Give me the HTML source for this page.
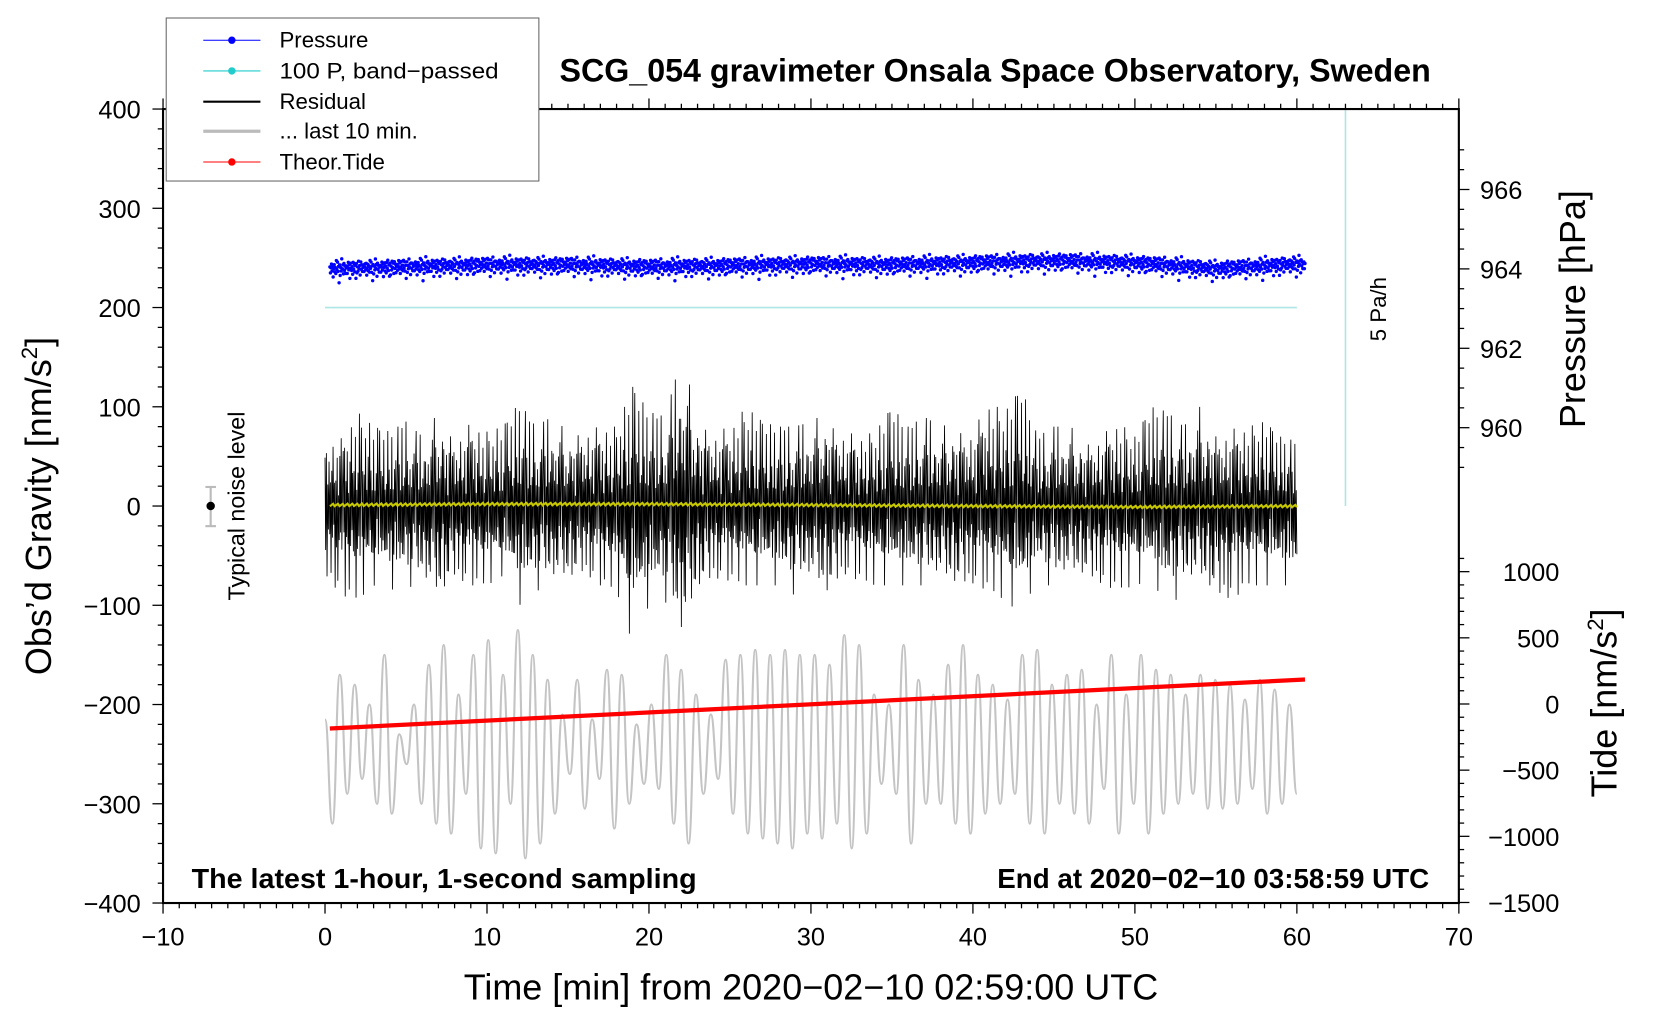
<!DOCTYPE html>
<html><head><meta charset="utf-8"><style>
html,body{margin:0;padding:0;background:#fff;}
svg{display:block;font-family:"Liberation Sans",sans-serif;}
</style></head><body>
<svg id="chart" width="1660" height="1020" viewBox="0 0 1568 963.5" preserveAspectRatio="none" xmlns="http://www.w3.org/2000/svg">
<rect width="1568" height="963.5" fill="#fff"/>
<g id="marks"></g>
<g id="axes"></g>
<text x="940" y="77" font-size="30.5" font-weight="bold" text-anchor="middle" textLength="823" lengthAdjust="spacingAndGlyphs">SCG_054 gravimeter Onsala Space Observatory, Sweden</text>
<text x="766" y="944" font-size="34" text-anchor="middle" textLength="656" lengthAdjust="spacingAndGlyphs">Time [min] from 2020−02−10 02:59:00 UTC</text>
<text transform="translate(48,478) rotate(-90)" font-size="34" text-anchor="middle">Obs’d Gravity [nm/s<tspan font-size="21" dy="-13">2</tspan><tspan dy="13">]</tspan></text>
<text transform="translate(1497,292) rotate(-90)" font-size="34" text-anchor="middle">Pressure [hPa]</text>
<text transform="translate(1527,664) rotate(-90)" font-size="34" text-anchor="middle">Tide [nm/s<tspan font-size="21" dy="-13">2</tspan><tspan dy="13">]</tspan></text>
<text x="181" y="839" font-size="26.5" font-weight="bold" textLength="477" lengthAdjust="spacingAndGlyphs">The latest 1-hour, 1-second sampling</text>
<text x="1350" y="839" font-size="26.5" font-weight="bold" text-anchor="end" textLength="408" lengthAdjust="spacingAndGlyphs">End at 2020−02−10 03:58:59 UTC</text>
<text transform="translate(231,478) rotate(-90)" font-size="22" text-anchor="middle">Typical noise level</text>
<line x1="199" y1="460" x2="199" y2="497" stroke="#bbb" stroke-width="2"/>
<line x1="194" y1="460" x2="204" y2="460" stroke="#bbb" stroke-width="2"/>
<line x1="194" y1="497" x2="204" y2="497" stroke="#bbb" stroke-width="2"/>
<circle cx="199" cy="478" r="4" fill="#000"/>
<text transform="translate(1309,292) rotate(-90)" font-size="21" text-anchor="middle">5 Pa/h</text>
<g>
<rect x="157" y="17" width="352" height="154" fill="#fff" stroke="#666" stroke-width="1"/>
<g><line x1="192" y1="38" x2="246" y2="38" stroke="#00f" stroke-width="1"/><circle cx="219" cy="38" r="3.5" fill="#00f"/><text x="264" y="45" font-size="21">Pressure</text></g>
<g><line x1="192" y1="67" x2="246" y2="67" stroke="#2cc" stroke-width="1"/><circle cx="219" cy="67" r="3.5" fill="#2cc"/><text x="264" y="74" font-size="21" textLength="207" lengthAdjust="spacingAndGlyphs">100 P, band−passed</text></g>
<g><line x1="192" y1="96" x2="246" y2="96" stroke="#000" stroke-width="2"/><text x="264" y="103" font-size="21">Residual</text></g>
<g><line x1="192" y1="124" x2="246" y2="124" stroke="#bbb" stroke-width="3"/><text x="264" y="131" font-size="21">... last 10 min.</text></g>
<g><line x1="192" y1="153" x2="246" y2="153" stroke="#f00" stroke-width="1"/><circle cx="219" cy="153" r="3.5" fill="#f00"/><text x="264" y="160" font-size="21">Theor.Tide</text></g>
</g>
</svg>
<script>
// ---- data ----
const resMinutes = [0,1,2,3,4,5,6,7,8,9,10,11,12,13,14,15,16,17,18,19,20,21,22,23,24,25,26,27,28,29,30,31,32,33,34,35,36,37,38,39,40,41,42,43,44,45,46,47,48,49,50,51,52,53,54,55,56,57,58,59,60];
const resUpper = [75,70,95,80,75,85,70,95,75,85,75,80,105,80,90,75,85,80,80,120,95,90,150,95,80,80,100,85,80,80,85,95,80,70,75,100,80,90,80,85,80,105,95,120,70,80,80,70,75,85,70,100,95,80,100,80,80,80,85,70,65];
const resLower = [-75,-90,-95,-80,-85,-80,-85,-100,-75,-80,-80,-70,-100,-85,-85,-80,-70,-80,-85,-140,-100,-95,-150,-90,-75,-75,-80,-80,-80,-90,-80,-95,-70,-75,-80,-80,-80,-80,-80,-85,-80,-85,-95,-110,-70,-85,-75,-75,-80,-85,-80,-75,-100,-90,-80,-95,-95,-80,-80,-80,-80];
const smoothMinutes = [0.3,10,20,30,40,50,60];
const smoothValues = [1,2,2,1,0,-1,0];
const grayValues = [-215,-320,-170,-290,-180,-275,-200,-300,-150,-310,-230,-260,-200,-300,-160,-320,-140,-330,-190,-290,-150,-345,-135,-350,-170,-300,-125,-355,-150,-340,-175,-310,-210,-270,-175,-305,-215,-275,-165,-325,-170,-300,-220,-280,-200,-285,-150,-320,-165,-340,-190,-290,-210,-275,-155,-310,-150,-330,-145,-335,-150,-340,-145,-345,-150,-330,-150,-335,-160,-320,-130,-345,-140,-330,-190,-280,-200,-290,-140,-340,-175,-300,-190,-300,-160,-320,-140,-330,-170,-310,-180,-300,-195,-290,-150,-320,-145,-330,-180,-300,-170,-310,-165,-320,-200,-285,-150,-330,-190,-300,-150,-330,-165,-310,-170,-300,-190,-290,-170,-305,-175,-305,-180,-300,-195,-285,-175,-310,-185,-300,-200,-290];
const tideMinutes = [0.3,60.5];
const tideValues = [-185,185];
const presMinutes = [0,5,10,15,20,25,30,35,40,45,50,55,60];
const presValues = [964.0,964.05,964.1,964.1,964.05,964.08,964.12,964.1,964.15,964.2,964.15,964.0,964.12];
const xTicks = [-10,0,10,20,30,40,50,60,70];
const yTicks = [400,300,200,100,0,-100,-200,-300,-400];
const presTicks = [966,964,962,960];
const tideTicks = [1000,500,0,-500,-1000,-1500];

// ---- scales ----
const X0=154,X1=1378,Y0=103,Y1=853;
const xs = t => X0 + (t+10)*(X1-X0)/80;
const ys = g => Y0 + (400-g)*(Y1-Y0)/800;
const ps = p => 254 - (p-964)*37.5;
const ts = v => 665 - v*0.125;
const NS="http://www.w3.org/2000/svg";
const marks=document.getElementById('marks'), axes=document.getElementById('axes');
function mk(tag,attrs,parent){const e=document.createElementNS(NS,tag);for(const k in attrs)e.setAttribute(k,attrs[k]);parent.appendChild(e);return e;}
function interp(xa,ya,x){if(x<=xa[0])return ya[0];for(let i=1;i<xa.length;i++){if(x<=xa[i]){const f=(x-xa[i-1])/(xa[i]-xa[i-1]);return ya[i-1]+f*(ya[i]-ya[i-1]);}}return ya[ya.length-1];}

const cy=mk('line',{x1:xs(0),y1:ys(200),x2:xs(60),y2:ys(200),stroke:'#aee6e6','stroke-width':1.5},marks);


const rl=mk('line',{x1:xs(63),y1:Y0,x2:xs(63),y2:ys(0),stroke:'#aee6e6','stroke-width':1.5},marks);



// pressure dots
const pg=mk('g',{fill:'#00f'},marks);


const jit=[0.06,-0.1,0.02,0.13,-0.05,0.09,-0.2,0.0,0.11,-0.07,0.04,-0.12,0.16,-0.02,0.14,-0.09,0.05,-0.28,0.1,-0.15,0.03,-0.06,0.19,-0.01,0.08,-0.17,0.12,-0.04,0.07,-0.11,0.01];
for(let i=0;i<=1800;i++){const t=0.3+i*60.2/1800;const p=interp(presMinutes,presValues,t)+jit[i%31]*(0.8+((i*7)%5)*0.12);
 mk('circle',{cx:xs(t).toFixed(1),cy:ps(p).toFixed(1),r:1.6},pg);}

// residual
let d='';const N=60*24;
const pat=[1,-0.45,0.6,-0.85,0.3,-0.35,0.8,-0.55,0.25,-0.7,0.45,-0.4,0.95,-0.3,0.5,-0.75,0.3,-0.45,0.7,-1,0.2,-0.6,0.55,-0.25,0.9,-0.5,0.35];
for(let i=0;i<=N;i++){const t=i*60/N;const u=interp(resMinutes,resUpper,t),l=interp(resMinutes,resLower,t);let f=pat[i%27]*(0.65+0.65*((i*13%7)/6));f=Math.max(-1,Math.min(1,f));const v=f>0?u*f:-l*f;d+=(i?'L':'M')+xs(t).toFixed(1)+' '+ys(v).toFixed(1);}
const res=mk('path',{d:d,fill:'none',stroke:'#000','stroke-width':0.8},marks);


let ds='';for(let i=0;i<=600;i++){const t=0.3+i*59.7/600;const v=interp(smoothMinutes,smoothValues,t)+((i%3)-1)*1.2;ds+=(i?'L':'M')+xs(t).toFixed(1)+' '+ys(v).toFixed(1);}
const sm=mk('path',{d:ds,fill:'none',stroke:'#c8c800','stroke-width':2},marks);



// gray curve
let dg='';const n=grayValues.length;const pts=grayValues.map((v,i)=>[xs(i*60/(n-1)),ys(v)]);
dg='M'+pts[0][0].toFixed(1)+' '+pts[0][1].toFixed(1);
for(let i=1;i<n;i++){const a=pts[i-1],b=pts[i];const mx=(a[0]+b[0])/2;dg+='C'+mx.toFixed(1)+' '+a[1].toFixed(1)+' '+mx.toFixed(1)+' '+b[1].toFixed(1)+' '+b[0].toFixed(1)+' '+b[1].toFixed(1);}
const gr=mk('path',{d:dg,fill:'none',stroke:'#c4c4c4','stroke-width':2},marks);



// tide
const td=mk('line',{x1:xs(tideMinutes[0]),y1:ts(tideValues[0]),x2:xs(tideMinutes[1]),y2:ts(tideValues[1]),stroke:'#f00','stroke-width':4},marks);



// axes
const fr=mk('rect',{x:X0,y:Y0,width:X1-X0,height:Y1-Y0,fill:'none',stroke:'#000','stroke-width':2},axes);


for(let t=-10;t<=70;t++){const maj=t%10===0;const x=xs(t);const L=maj?10:5;
 mk('line',{x1:x,y1:Y1,x2:x,y2:Y1+L,stroke:'#000','stroke-width':1.2},axes);
 mk('line',{x1:x,y1:Y0,x2:x,y2:Y0-L,stroke:'#000','stroke-width':1.2},axes);}
xTicks.forEach(t=>{const e=mk('text',{x:xs(t),y:Y1+40,'font-size':24,'text-anchor':'middle'},axes);e.textContent=String(t).replace('-','−');
 
 });
for(let g=-400;g<=400;g+=20){const maj=g%100===0;mk('line',{x1:X0,y1:ys(g),x2:X0-(maj?10:5),y2:ys(g),stroke:'#000','stroke-width':1.2},axes);}
yTicks.forEach(g=>{const e=mk('text',{x:133,y:ys(g)+9,'font-size':24,'text-anchor':'end'},axes);e.textContent=String(g).replace('-','−');
 
 });
for(let p=959;p<=967.01;p+=0.5){const maj=Math.abs(p-Math.round(p/2)*2)<0.01;mk('line',{x1:X1,y1:ps(p),x2:X1+(maj?10:5),y2:ps(p),stroke:'#000','stroke-width':1.2},axes);}
presTicks.forEach(p=>{const e=mk('text',{x:1398,y:ps(p)+9,'font-size':24},axes);e.textContent=p;
 
 });
for(let v=-1500;v<=1100;v+=100){const maj=v%500===0;mk('line',{x1:X1,y1:ts(v),x2:X1+(maj?10:5),y2:ts(v),stroke:'#000','stroke-width':1.2},axes);}
tideTicks.forEach(v=>{const e=mk('text',{x:1473,y:ts(v)+9,'font-size':24,'text-anchor':'end'},axes);e.textContent=String(v).replace('-','−');
 
 });
</script>
</body></html>
